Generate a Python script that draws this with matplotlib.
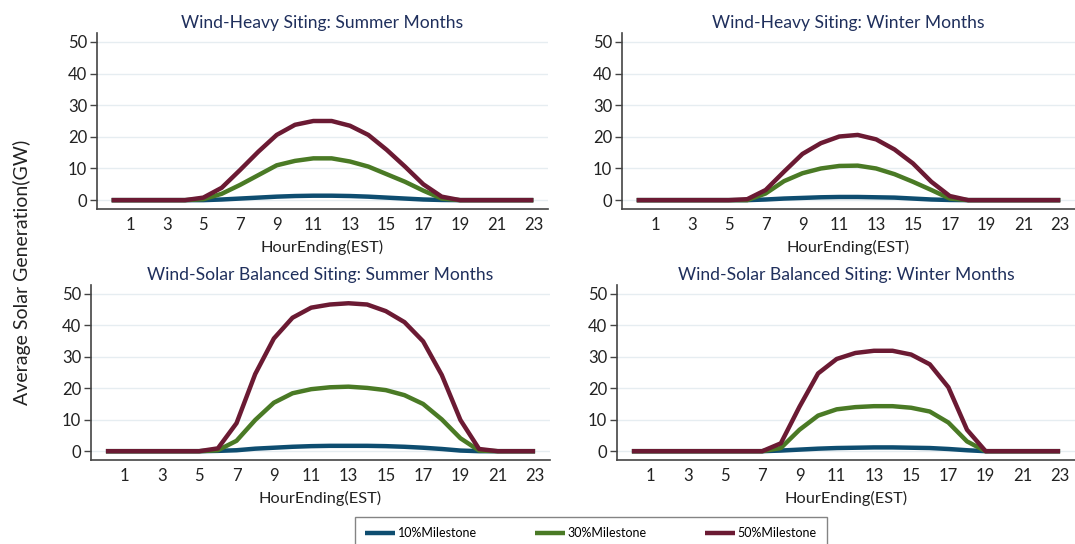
import matplotlib
matplotlib.use("Agg")
import matplotlib.pyplot as plt

plt.rcParams['font.family'] = ['Lato', 'DejaVu Sans']

hours = list(range(24))

titles = [
    "Wind-Heavy Siting: Summer Months",
    "Wind-Heavy Siting: Winter Months",
    "Wind-Solar Balanced Siting: Summer Months",
    "Wind-Solar Balanced Siting: Winter Months",
]

series_names = ["10%Milestone", "30%Milestone", "50%Milestone"]

# wind-heavy, summer
wh_summer_10 = [0, 0, 0, 0, 0, 0, 0.2, 0.5, 0.8, 1.1, 1.3, 1.4, 1.4, 1.3, 1.1, 0.8, 0.5, 0.2, 0.05, 0, 0, 0, 0, 0]
wh_summer_30 = [0, 0, 0, 0, 0, 0.3, 2.0, 4.8, 7.9, 11.0, 12.4, 13.2, 13.2, 12.2, 10.6, 8.2, 5.8, 3.0, 0.5, 0, 0, 0, 0, 0]
wh_summer_50 = [0, 0, 0, 0, 0, 0.8, 3.9, 9.5, 15.3, 20.6, 23.8, 25.0, 25.0, 23.5, 20.6, 15.9, 10.6, 5.0, 1.1, 0, 0, 0, 0, 0]

# wind-heavy, winter
wh_winter_10 = [0, 0, 0, 0, 0, 0, 0, 0.2, 0.5, 0.7, 0.9, 1.0, 1.0, 0.9, 0.8, 0.5, 0.2, 0.05, 0, 0, 0, 0, 0, 0]
wh_winter_30 = [0, 0, 0, 0, 0, 0, 0, 2.1, 6.0, 8.5, 10.0, 10.8, 10.9, 10.0, 8.2, 5.8, 3.2, 0.5, 0, 0, 0, 0, 0, 0]
wh_winter_50 = [0, 0, 0, 0, 0, 0, 0.3, 3.2, 9.0, 14.6, 18.0, 20.1, 20.6, 19.2, 16.0, 11.6, 5.8, 1.3, 0, 0, 0, 0, 0, 0]

# balanced, summer
bal_summer_10 = [0, 0, 0, 0, 0, 0, 0.1, 0.3, 0.8, 1.1, 1.4, 1.6, 1.7, 1.7, 1.7, 1.6, 1.4, 1.1, 0.7, 0.2, 0, 0, 0, 0]
bal_summer_30 = [0, 0, 0, 0, 0, 0, 0.3, 3.3, 9.9, 15.4, 18.4, 19.7, 20.3, 20.5, 20.1, 19.4, 17.8, 15.0, 10.1, 4.1, 0.2, 0, 0, 0]
bal_summer_50 = [0, 0, 0, 0, 0, 0, 0.9, 8.9, 24.5, 35.8, 42.4, 45.6, 46.6, 47.0, 46.6, 44.5, 41.0, 34.9, 24.2, 9.9, 0.7, 0, 0, 0]

# balanced, winter
bal_winter_10 = [0, 0, 0, 0, 0, 0, 0, 0, 0.2, 0.5, 0.8, 1.0, 1.1, 1.2, 1.2, 1.1, 1.0, 0.7, 0.3, 0, 0, 0, 0, 0]
bal_winter_30 = [0, 0, 0, 0, 0, 0, 0, 0, 1.0, 6.8, 11.3, 13.3, 14.0, 14.3, 14.3, 13.8, 12.6, 9.1, 3.1, 0, 0, 0, 0, 0]
bal_winter_50 = [0, 0, 0, 0, 0, 0, 0, 0, 2.5, 14.1, 24.7, 29.3, 31.2, 31.9, 31.9, 30.7, 27.6, 20.3, 6.8, 0, 0, 0, 0, 0]

panels = [
    (wh_summer_10, wh_summer_30, wh_summer_50),
    (wh_winter_10, wh_winter_30, wh_winter_50),
    (bal_summer_10, bal_summer_30, bal_summer_50),
    (bal_winter_10, bal_winter_30, bal_winter_50),
]

colors = ['#0e4d70', '#4a7a25', '#6b1a33']
title_color = '#1f2f5c'

W, H = 1075, 544
fig = plt.figure(figsize=(W / 100, H / 100), dpi=100)

# pixel boxes: left, right, top, bottom
boxes = [
    (97, 548, 33, 209),
    (622, 1075, 33, 209),
    (91, 550, 285, 460),
    (617, 1075, 285, 460),
]

for (l, r, t, b), title, data in zip(boxes, titles, panels):
    ax = fig.add_axes([l / W, 1 - b / H, (r - l) / W, (b - t) / H])
    for vals, c, name in zip(data, colors, series_names):
        ax.plot(hours, vals, color=c, lw=3.2, label=name, solid_capstyle='butt')
    ax.set_xlim(-0.8, 23.8)
    ax.set_ylim(-2.8, 52.8)
    ax.set_xticks(range(1, 24, 2))
    ax.set_yticks(range(0, 51, 10))
    ax.yaxis.grid(True, color='#e6edf1', lw=1)
    ax.set_axisbelow(True)
    for s in ['top', 'right']:
        ax.spines[s].set_visible(False)
    for s in ['left', 'bottom']:
        ax.spines[s].set_color('#444444')
        ax.spines[s].set_linewidth(1.2)
    ax.tick_params(axis='x', length=0, labelsize=12, pad=6)
    ax.tick_params(axis='y', length=5, width=1, labelsize=12, pad=2, color='#444444')
    ax.tick_params(axis='both', labelcolor='#222222')
    ax.set_xlabel("HourEnding(EST)", fontsize=11.8, color='#222222', labelpad=4.5)
    ax.set_title(title, fontsize=12.6, color=title_color, pad=3.5)

fig.text(22 / W, 1 - 272 / H, "Average Solar Generation(GW)", rotation=90,
         ha='center', va='center', fontsize=14, color='#222222')

handles, labels = ax.get_legend_handles_labels()
leg = fig.legend(handles, labels, loc='upper left', ncol=3,
                 bbox_to_anchor=(355 / W, 1 - 517 / H), frameon=True,
                 fancybox=False, edgecolor='#666666', fontsize=9,
                 handlelength=2.4, handletextpad=0.25, columnspacing=4.6,
                 borderpad=0.8, borderaxespad=0)
leg.get_frame().set_linewidth(1.0)

fig.savefig("out.png", dpi=100)
